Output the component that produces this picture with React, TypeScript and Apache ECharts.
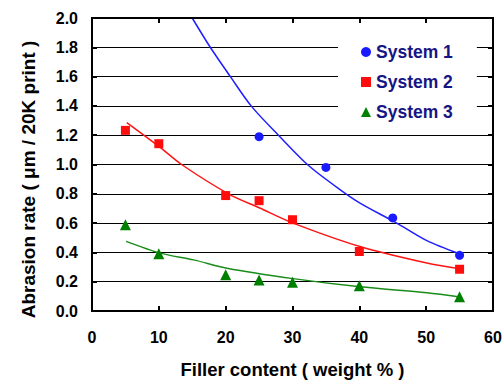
import React, { useEffect, useRef } from "react";
import * as echarts from "echarts";

const xTicks = [0, 10, 20, 30, 40, 50, 60];
const yTicks = [0, 0.2, 0.4, 0.6, 0.8, 1.0, 1.2, 1.4, 1.6, 1.8, 2.0];

const seriesNames = ["System 1", "System 2", "System 3"];

const system1Points: [number, number][] = [
  [25, 1.19], [35, 0.98], [45, 0.635], [55, 0.38],
];
const system2Points: [number, number][] = [
  [5, 1.233], [10, 1.142], [20, 0.788], [25, 0.753], [30, 0.623], [40, 0.406], [55, 0.285],
];
const system3Points: [number, number][] = [
  [5, 0.589], [10, 0.39], [20, 0.247], [25, 0.212], [30, 0.196], [40, 0.173], [55, 0.098],
];

const system1Fit: [number, number][] = [
  [15.0, 2.0], [17.6, 1.807], [20.7, 1.6], [23.9, 1.395], [27.9, 1.2], [32.4, 0.993],
  [37.1, 0.829], [40.1, 0.737], [45.6, 0.6], [50.1, 0.48], [55.0, 0.39],
];
const system2Fit: [number, number][] = [
  [5.2, 1.286], [10.1, 1.12], [13.4, 1.0], [20.4, 0.8], [25.1, 0.703], [30.1, 0.6],
  [40.1, 0.44], [50.1, 0.327], [55.0, 0.288],
];
const system3Fit: [number, number][] = [
  [5.1, 0.475], [10.2, 0.395], [15.2, 0.349], [20.2, 0.292], [30.1, 0.221],
  [40.1, 0.165], [50.1, 0.125], [55.1, 0.096],
];

const markerColors = ["#1a1aff", "#ff0d0d", "#008000"];
const lineColors = ["#1f1fff", "#ff1414", "#1a8c1a"];
const symbols = ["circle", "rect", "triangle"];
const symbolSizes = [9, 9, 11];

const FONT = "'Liberation Sans', Arial, sans-serif";

const GRID = { left: 92, right: 11, top: 18, bottom: 69 };
const W = 504;
const H = 380;

export default function App() {
  const ref = useRef<HTMLDivElement>(null);
  useEffect(() => {
    if (!ref.current) return;
    const chart = echarts.init(ref.current, undefined, { renderer: "svg" });
    const points = [system1Points, system2Points, system3Points];
    const fits = [system1Fit, system2Fit, system3Fit];
    const axisLineStyle = { color: "#000", width: 2 };
    const tickStyle = { show: true, inside: true, length: 5, lineStyle: { color: "#000", width: 2 } };
    const fx = GRID.left;
    const fy = GRID.top;
    const fw = W - GRID.left - GRID.right;
    const fh = H - GRID.top - GRID.bottom;
    const option: any = {
      animation: false,
      textStyle: { fontFamily: FONT },
      grid: {
        ...GRID,
        containLabel: false,
        outerBoundsMode: "none",
        show: false,
      },
      graphic: [
        {
          type: "rect",
          z: 100,
          silent: true,
          shape: { x: fx, y: fy, width: fw, height: fh },
          style: { fill: "none", stroke: "#000", lineWidth: 2 },
        },
      ],
      legend: {
        orient: "vertical",
        left: 338,
        top: 33,
        padding: [10, 24, 10, 23],
        backgroundColor: "#fff",
        itemWidth: 10,
        itemHeight: 10,
        itemGap: 12,
        data: seriesNames.map((n, i) => ({ name: n, icon: symbols[i] })),
        textStyle: {
          color: "#151585",
          fontWeight: "bold",
          fontSize: 17.5,
          fontFamily: FONT,
          lineHeight: 18,
        },
      },
      xAxis: [
        {
          type: "value",
          min: xTicks[0],
          max: xTicks[xTicks.length - 1],
          interval: 10,
          name: "Filler content ( weight % )",
          nameLocation: "middle",
          nameGap: 49,
          nameTextStyle: { color: "#000", fontWeight: "bold", fontSize: 18.5, fontFamily: FONT },
          axisLine: { show: true, onZero: false, lineStyle: axisLineStyle },
          axisTick: tickStyle,
          axisLabel: { color: "#000", fontWeight: "bold", fontSize: 16, margin: 18, fontFamily: FONT },
          splitLine: { show: false },
        },
        {
          type: "value",
          position: "top",
          min: xTicks[0],
          max: xTicks[xTicks.length - 1],
          interval: 10,
          axisLine: { show: true, onZero: false, lineStyle: axisLineStyle },
          axisTick: tickStyle,
          axisLabel: { show: false },
          splitLine: { show: false },
        },
      ],
      yAxis: [
        {
          type: "value",
          min: yTicks[0],
          max: yTicks[yTicks.length - 1],
          interval: 0.2,
          name: "Abrasion rate ( μm / 20K print )",
          nameLocation: "middle",
          nameGap: 54,
          nameTextStyle: {
            color: "#000",
            fontWeight: "bold",
            fontSize: 19,
            fontFamily: FONT,
            padding: [0, 30, 0, 0],
          },
          axisLine: { show: true, onZero: false, lineStyle: axisLineStyle },
          axisTick: tickStyle,
          axisLabel: {
            color: "#000",
            fontWeight: "bold",
            fontSize: 16,
            margin: 14,
            fontFamily: FONT,
            formatter: (v: number) => v.toFixed(1),
          },
          splitLine: { show: true, lineStyle: { color: "#000", width: 1 } },
        },
        {
          type: "value",
          position: "right",
          min: yTicks[0],
          max: yTicks[yTicks.length - 1],
          interval: 0.2,
          axisLine: { show: true, onZero: false, lineStyle: axisLineStyle },
          axisTick: tickStyle,
          axisLabel: { show: false },
          splitLine: { show: false },
        },
      ],
      series: [
        ...fits.map((d, i) => ({
          type: "line",
          data: d,
          xAxisIndex: 1,
          yAxisIndex: 1,
          smooth: 0.3,
          showSymbol: false,
          symbol: "none",
          lineStyle: { color: lineColors[i], width: 1.5 },
          silent: true,
          z: 2,
        })),
        ...points.map((d, i) => ({
          type: "scatter",
          name: seriesNames[i],
          data: d,
          xAxisIndex: 0,
          yAxisIndex: 0,
          symbol: symbols[i],
          symbolSize: symbolSizes[i],
          itemStyle: { color: markerColors[i], opacity: 1 },
          z: 3,
        })),
      ],
    };
    chart.setOption(option);
    return () => chart.dispose();
  }, []);
  return (
    <div
      ref={ref}
      style={{ position: "absolute", left: 0, top: 0, width: W, height: H, background: "#fff" }}
    />
  );
}
